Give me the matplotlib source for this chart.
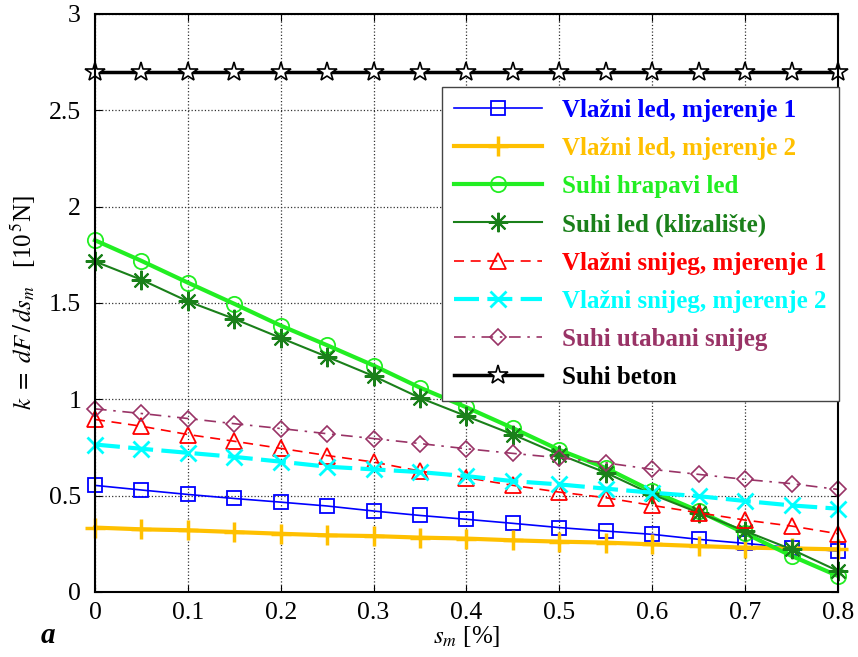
import matplotlib.pyplot as plt
from matplotlib.ticker import FuncFormatter

# klizanje s_m [%]
s_m = [0.0, 0.05, 0.1, 0.15, 0.2, 0.25, 0.3, 0.35, 0.4, 0.45, 0.5, 0.55, 0.6, 0.65, 0.7, 0.75, 0.8]

vlazni_led_1 = [0.553, 0.529, 0.506, 0.485, 0.466, 0.446, 0.420, 0.397, 0.377, 0.356, 0.334,
                0.316, 0.299, 0.273, 0.252, 0.230, 0.212]
vlazni_led_2 = [0.334, 0.325, 0.320, 0.311, 0.302, 0.294, 0.290, 0.282, 0.277, 0.268, 0.261,
                0.256, 0.247, 0.238, 0.230, 0.226, 0.221]
suhi_hrapavi_led = [1.825, 1.718, 1.605, 1.495, 1.382, 1.280, 1.175, 1.060, 0.958, 0.850, 0.737,
                    0.643, 0.523, 0.420, 0.304, 0.187, 0.083]
suhi_led_klizaliste = [1.715, 1.620, 1.508, 1.417, 1.318, 1.220, 1.120, 1.007, 0.912, 0.817, 0.713,
                       0.619, 0.506, 0.411, 0.316, 0.221, 0.109]
vlazni_snijeg_1 = [0.895, 0.860, 0.817, 0.782, 0.745, 0.708, 0.674, 0.627, 0.593, 0.553, 0.518,
                   0.489, 0.449, 0.411, 0.373, 0.342, 0.302]
vlazni_snijeg_2 = [0.765, 0.743, 0.722, 0.701, 0.676, 0.650, 0.636, 0.622, 0.601, 0.575, 0.558,
                   0.536, 0.515, 0.497, 0.472, 0.449, 0.432]
suhi_utabani_snijeg = [0.950, 0.926, 0.900, 0.873, 0.848, 0.821, 0.796, 0.770, 0.743, 0.719, 0.696,
                       0.670, 0.636, 0.610, 0.584, 0.562, 0.532]
suhi_beton = [2.7] * len(s_m)

x_ticks = [0, 0.1, 0.2, 0.3, 0.4, 0.5, 0.6, 0.7, 0.8]
y_ticks = [0, 0.5, 1, 1.5, 2, 2.5, 3]

plt.rcParams['font.family'] = ['Liberation Serif', 'DejaVu Serif']
plt.rcParams['mathtext.fontset'] = 'stix'

fig = plt.figure(figsize=(8.58, 6.57), dpi=100)
ax = fig.add_axes([0.1107, 0.0990, 0.866, 0.880])

ax.plot(s_m, vlazni_led_1, color='#0000ff', lw=1.2, marker='s', ms=10, mfc='none', mew=1.3,
        label='Vlažni led, mjerenje 1', clip_on=False)
ax.plot(s_m, vlazni_led_2, color='#ffc000', lw=3, marker='+', ms=14, mew=2.5,
        label='Vlažni led, mjerenje 2', clip_on=False)
ax.plot(s_m, suhi_hrapavi_led, color='#22ee22', lw=3, marker='o', ms=11, mfc='none', mew=1.3,
        label='Suhi hrapavi led', clip_on=False)
ax.plot(s_m, suhi_led_klizaliste, color='#1a801a', lw=1.5, marker=(8, 2, 0), ms=14, mew=1.5,
        label='Suhi led (klizalište)', clip_on=False)
ax.plot(s_m, vlazni_snijeg_1, color='#ff0000', lw=1.2, ls=(0, (6, 4)), marker='^', ms=11,
        mfc='none', mew=1.3, label='Vlažni snijeg, mjerenje 1', clip_on=False)
ax.plot(s_m, vlazni_snijeg_2, color='#00ffff', lw=3, ls=(0, (6, 2)), marker='x', ms=12, mew=2,
        label='Vlažni snijeg, mjerenje 2', clip_on=False)
ax.plot(s_m, suhi_utabani_snijeg, color='#993366', lw=1.2, ls=(0, (7, 4, 1.5, 4)), marker='D', ms=8,
        mfc='none', mew=1.2, label='Suhi utabani snijeg', clip_on=False)
ax.plot(s_m, suhi_beton, color='black', lw=2.5, marker='*', ms=15, mfc='white', mew=1.2,
        label='Suhi beton', clip_on=False)

ax.set_xlim(0, 0.8)
ax.set_ylim(0, 3)
ax.set_xticks(x_ticks)
ax.set_yticks(y_ticks)
fmt = FuncFormatter(lambda v, p: ('%g' % v))
ax.xaxis.set_major_formatter(fmt)
ax.yaxis.set_major_formatter(fmt)
ax.tick_params(direction='in', top=True, right=True, labelsize=18.5, length=5)
ax.tick_params(axis='x', pad=7)
ax.tick_params(axis='y', pad=10)
ax.grid(True, color='#333333', ls=':', lw=0.9)
for sp in ax.spines.values():
    sp.set_linewidth(1.5)

ax.set_xlabel(r'$s_m$ [%]', fontsize=18, labelpad=0)
ax.set_ylabel(r'$k\ =\ dF\,/\,ds_m$   [10$^{\,5}$N]', fontsize=18, labelpad=8)

leg = ax.legend(loc='upper right', bbox_to_anchor=(1.001, 0.874), borderaxespad=0,
                fancybox=False, edgecolor='#444444', framealpha=1, handlelength=3.5,
                labelspacing=0.6, borderpad=0.5, handletextpad=0.8,
                prop={'weight': 'bold', 'size': 18})
leg.get_frame().set_linewidth(1.0)
for txt, line in zip(leg.get_texts(), leg.get_lines()):
    txt.set_color(line.get_color())

fig.text(0.047, 0.022, 'a', fontsize=21, fontweight='bold', style='italic')

plt.savefig('out.png', dpi=100)
